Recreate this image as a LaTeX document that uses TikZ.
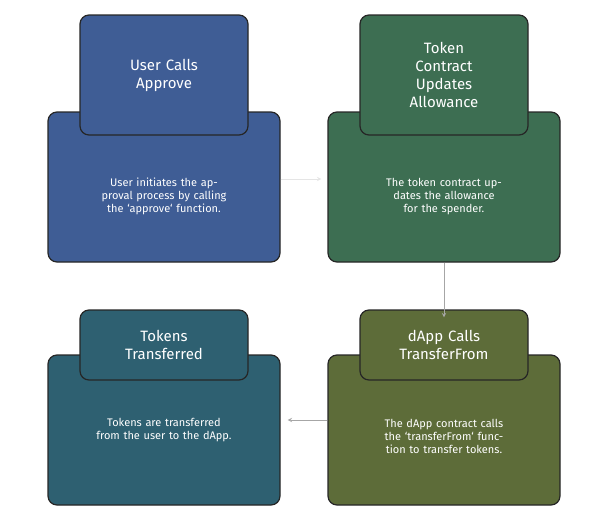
\documentclass[tikz,border=0pt]{standalone}
\usepackage{fontspec}
\setmainfont{Fira Sans}
\begin{document}
\begin{tikzpicture}[x=1pt,y=-1pt,
  big/.style={draw=black!85,line width=1.2pt,rounded corners=9pt,text=white,align=center,font=\fontsize{11}{13}\selectfont},
  ttl/.style={draw=black!85,line width=1.2pt,rounded corners=9pt,text=white,align=center,font=\fontsize{15}{18}\selectfont},
  arr/.style={draw=black!35,line width=1pt,->,>=stealth}]
\useasboundingbox (0,0) rectangle (608,523);
\definecolor{cb}{HTML}{3F5D95}
\definecolor{cg}{HTML}{3D6E52}
\definecolor{ct}{HTML}{2E6071}
\definecolor{co}{HTML}{5D6C39}
% top-left
\node[big,fill=cb,minimum width=232pt,minimum height=150pt,text width=150pt] (b1) at (164,187) {\\[14pt]User initiates the approval process by calling the `approve` function.};
\node[ttl,fill=cb,minimum width=168pt,minimum height=120pt,text width=150pt] (t1) at (164,75) {User Calls\\Approve};
% top-right
\node[big,fill=cg,minimum width=232pt,minimum height=150pt,text width=150pt] (b2) at (444,187) {\\[14pt]The token contract updates the allowance for the spender.};
\node[ttl,fill=cg,minimum width=168pt,minimum height=120pt,text width=150pt] (t2) at (444,75) {Token\\Contract\\Updates\\Allowance};
% bottom-left
\node[big,fill=ct,minimum width=232pt,minimum height=150pt,text width=160pt] (b3) at (164,430) {Tokens are transferred from the user to the dApp.};
\node[ttl,fill=ct,minimum width=168pt,minimum height=70pt,text width=150pt] (t3) at (164,345) {Tokens\\Transferred};
% bottom-right
\node[big,fill=co,minimum width=232pt,minimum height=150pt,text width=160pt] (b4) at (444,430) {\\[8pt]The dApp contract calls the `transferFrom` function to transfer tokens.};
\node[ttl,fill=co,minimum width=168pt,minimum height=70pt,text width=150pt] (t4) at (444,345) {dApp Calls\\TransferFrom};
\draw[arr,draw=black!10] ([yshift=8pt]b1.east) -- ([xshift=-6pt,yshift=8pt]b2.west);
\draw[arr] (b2.south) -- ([yshift=-8pt]t4.north);
\draw[arr] ([yshift=10pt]b4.west) -- ([xshift=7pt,yshift=10pt]b3.east);
\end{tikzpicture}
\end{document}
